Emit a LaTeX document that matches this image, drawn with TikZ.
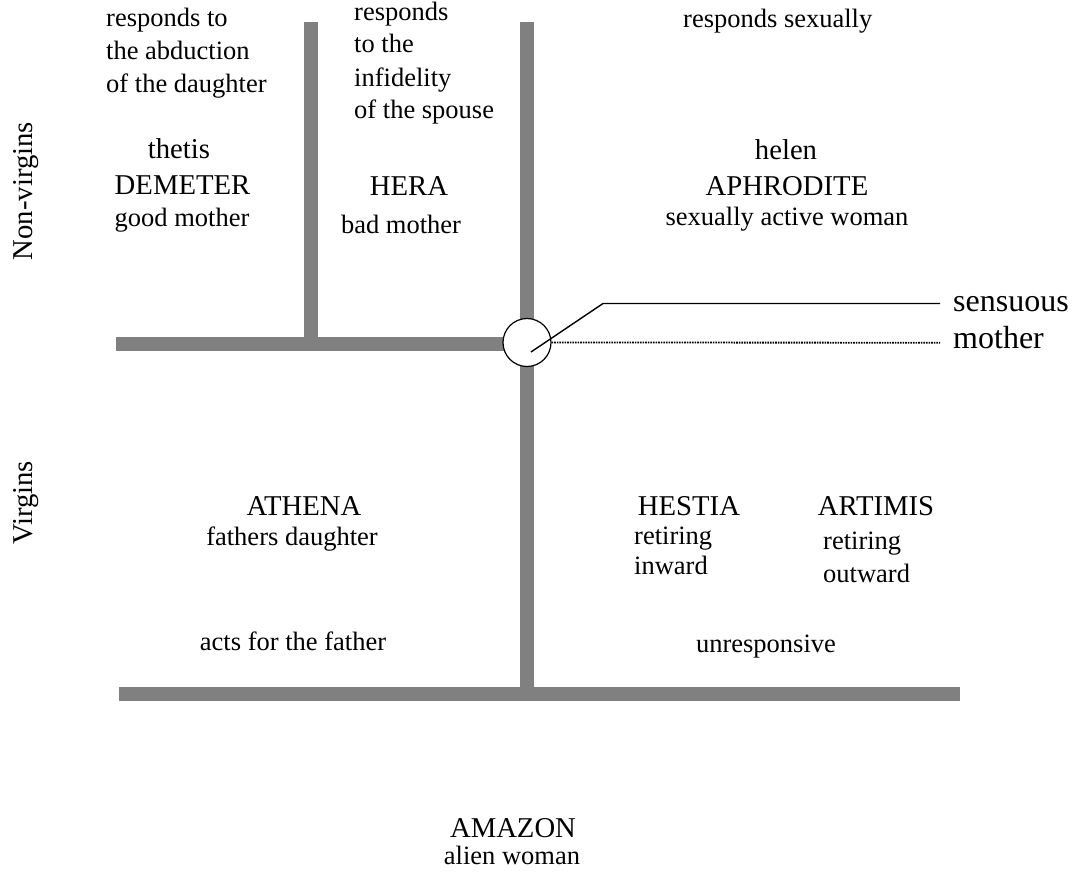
\documentclass[tikz,border=0pt]{standalone}
\usepackage{fontspec}
\setmainfont{Liberation Serif}
\definecolor{bargray}{RGB}{128,128,128}
\begin{document}
\begin{tikzpicture}[x=1pt,y=-1pt,
  bar/.style={line width=14pt, draw=bargray},
  sm/.style={inner sep=0pt, font=\fontsize{26.5}{30}\selectfont},
  nm/.style={inner sep=0pt, font=\fontsize{28.7}{32}\selectfont},
  bg/.style={inner sep=0pt, font=\fontsize{32}{36}\selectfont},
  lead/.style={draw=black, line width=1.4pt},
  dotlead/.style={draw=black, line width=1.8pt, dash pattern=on 1.6pt off 1pt}]
\useasboundingbox (0,0) rectangle (1073,873);

% gray bars
\coordinate (lvt) at (311,22);
\coordinate (lvb) at (311,344);
\coordinate (hl) at (116,344);
\coordinate (cen) at (527,344);
\coordinate (cvt) at (527,22);
\coordinate (cvb) at (527,694);
\coordinate (bl) at (119,694);
\coordinate (br) at (960,694);
\draw[bar] (lvt) -- (lvb);
\draw[bar] (hl) -- (cen);
\draw[bar] (cvt) -- (cvb);
\draw[bar] (bl) -- (br);

% circle and leaders
\node[circle, draw=black, fill=white, line width=1.2pt, minimum size=48pt, inner sep=0pt] (circ) at (527,342.5) {};
\coordinate (c1) at (531,352);
\coordinate (bend) at (603,303.5);
\coordinate (se) at (940,303.5);
\coordinate (ms) at (940,342.7);
\draw[lead] (c1) -- (bend) -- (se);
\draw[dotlead] (circ.east) -- (ms);

% side labels
\node[nm, rotate=90, anchor=base] (nonv) at (32,191) {Non-virgins};
\node[nm, rotate=90, anchor=base] (virg) at (32,503) {Virgins};

% top left quadrant
\node[sm, anchor=base west] (r1) at (106,26) {responds to};
\node[sm, anchor=base west] (r2) at (106,59) {the abduction};
\node[sm, anchor=base west] (r3) at (106,92) {of the daughter};
\node[nm, anchor=base] (thetis) at (179,158) {thetis};
\node[nm, anchor=base] (demeter) at (182.5,194) {DEMETER};
\node[sm, anchor=base] (good) at (182,226) {good mother};

% top middle
\node[sm, anchor=base west] (h1) at (354,20) {responds};
\node[sm, anchor=base west] (h2) at (354,52) {to the};
\node[sm, anchor=base west] (h3) at (354,86) {infidelity};
\node[sm, anchor=base west] (h4) at (354,118) {of the spouse};
\node[nm, anchor=base] (hera) at (409,195) {HERA};
\node[sm, anchor=base] (bad) at (401,233) {bad mother};

% top right
\node[sm, anchor=base west] (rs) at (683,27) {responds sexually};
\node[nm, anchor=base] (helen) at (786,159) {helen};
\node[nm, anchor=base] (aphro) at (787,195) {APHRODITE};
\node[sm, anchor=base] (saw) at (787,225) {sexually active woman};

% sensuous mother
\node[bg, anchor=base west] (sens) at (953,311) {sensuous};
\node[bg, anchor=base west] (moth) at (953,348) {mother};

% bottom left
\node[nm, anchor=base] (athena) at (304,515) {ATHENA};
\node[sm, anchor=base] (fd) at (292,545) {fathers daughter};
\node[sm, anchor=base] (acts) at (293,650) {acts for the father};

% bottom right
\node[nm, anchor=base] (hestia) at (689,515) {HESTIA};
\node[sm, anchor=base west] (ret1) at (634,544) {retiring};
\node[sm, anchor=base west] (inw) at (634,574) {inward};
\node[nm, anchor=base] (artimis) at (876,515) {ARTIMIS};
\node[sm, anchor=base west] (ret2) at (823,549) {retiring};
\node[sm, anchor=base west] (outw) at (823,582) {outward};
\node[sm, anchor=base] (unresp) at (766,652) {unresponsive};

% bottom
\node[nm, anchor=base] (amazon) at (513,837) {AMAZON};
\node[sm, anchor=base] (alien) at (512,864) {alien woman};
\end{tikzpicture}
\end{document}
